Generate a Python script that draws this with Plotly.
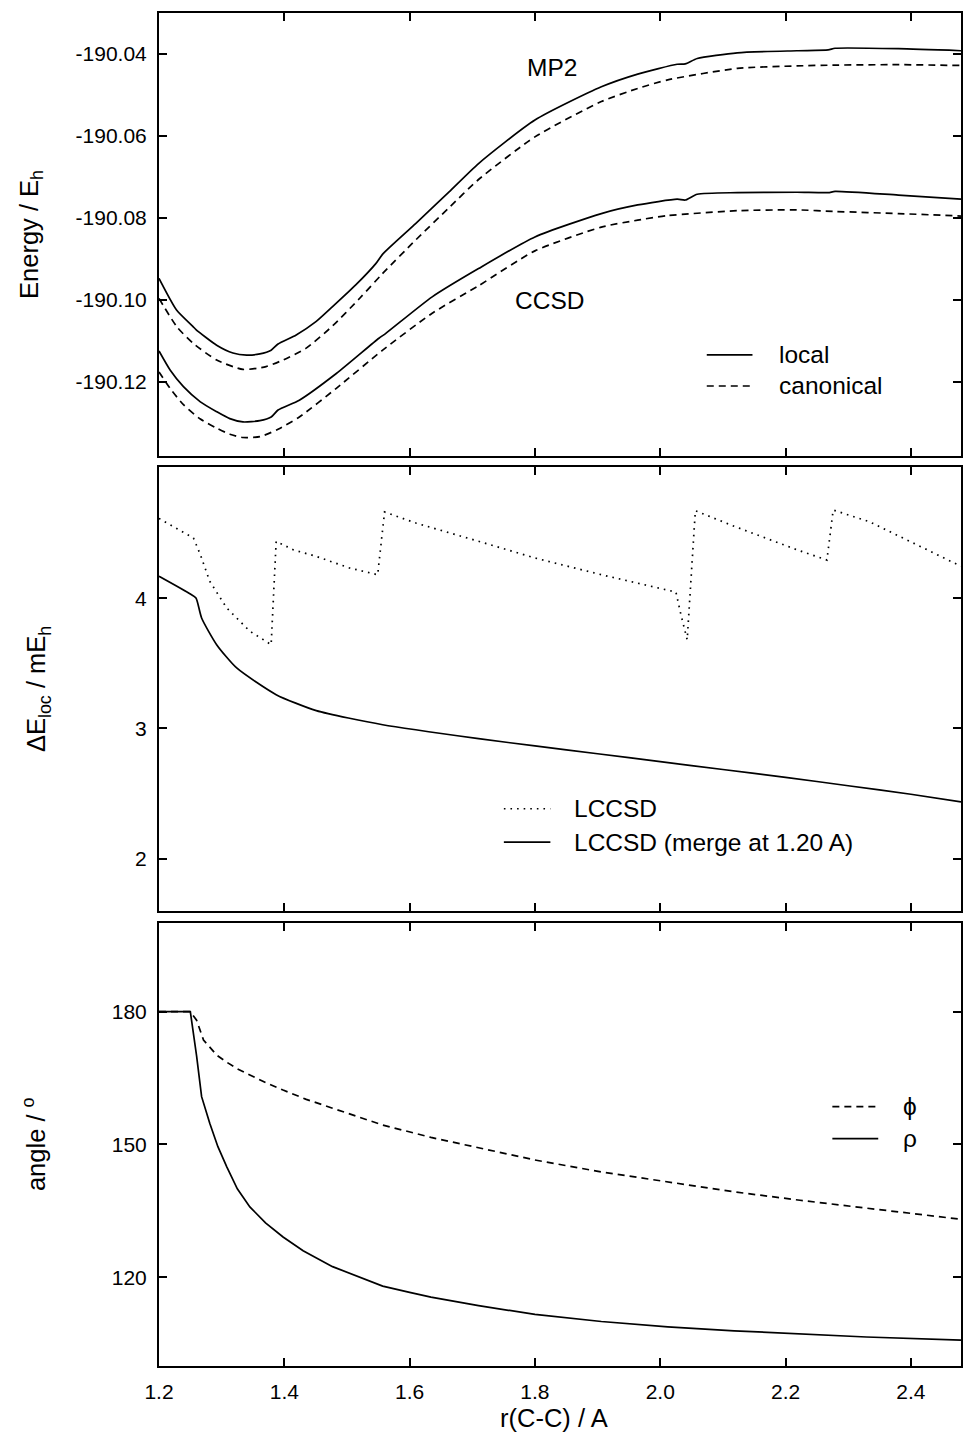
import plotly.graph_objects as go

# ---------------- data ----------------
# Energies (E_h) vs C-C distance (Angstrom)
r_mp2_local = [1.200, 1.228, 1.254, 1.259, 1.292, 1.318, 1.340, 1.361, 1.379, 1.390, 1.419, 1.451,
               1.477, 1.514, 1.546, 1.557, 1.610, 1.663, 1.710, 1.800, 1.906, 1.964, 2.027, 2.040,
               2.059, 2.123, 2.218, 2.268, 2.279, 2.380, 2.480]
e_mp2_local = [-190.0947, -190.1024, -190.1064, -190.1072, -190.1110, -190.1129, -190.1134, -190.1131,
               -190.1122, -190.1107, -190.1085, -190.1052, -190.1016, -190.0963, -190.0911, -190.0888,
               -190.0813, -190.0736, -190.0667, -190.0561, -190.0480, -190.0449, -190.0425, -190.0424,
               -190.0411, -190.0397, -190.0392, -190.0390, -190.0386, -190.0387, -190.0392]

r_mp2_can = [1.200, 1.229, 1.255, 1.292, 1.334, 1.371, 1.398, 1.435, 1.477, 1.520, 1.557, 1.610,
             1.662, 1.710, 1.800, 1.906, 1.964, 2.012, 2.123, 2.218, 2.281, 2.380, 2.480]
e_mp2_can = [-190.0996, -190.1066, -190.1106, -190.1146, -190.1169, -190.1162, -190.1146, -190.1117,
             -190.1063, -190.0996, -190.0935, -190.0853, -190.0776, -190.0706, -190.0602, -190.0516,
             -190.0484, -190.0463, -190.0435, -190.0429, -190.0427, -190.0426, -190.0428]

r_ccsd_local = [1.200, 1.218, 1.239, 1.266, 1.292, 1.313, 1.334, 1.361, 1.379, 1.390, 1.424, 1.483,
                1.551, 1.562, 1.636, 1.710, 1.800, 1.906, 1.964, 2.027, 2.040, 2.059, 2.123, 2.218,
                2.268, 2.279, 2.380, 2.480]
e_ccsd_local = [-190.1124, -190.1171, -190.1211, -190.1248, -190.1272, -190.1289, -190.1297, -190.1294,
                -190.1285, -190.1268, -190.1244, -190.1179, -190.1093, -190.1081, -190.0992, -190.0923,
                -190.0846, -190.0789, -190.0768, -190.0754, -190.0756, -190.0742, -190.0738, -190.0737,
                -190.0738, -190.0735, -190.0744, -190.0754]

r_ccsd_can = [1.200, 1.218, 1.239, 1.266, 1.292, 1.313, 1.334, 1.361, 1.390, 1.424, 1.483, 1.557,
              1.636, 1.710, 1.800, 1.906, 1.964, 2.012, 2.123, 2.218, 2.281, 2.380, 2.480]
e_ccsd_can = [-190.1175, -190.1216, -190.1255, -190.1290, -190.1312, -190.1327, -190.1335, -190.1333,
              -190.1315, -190.1285, -190.1215, -190.1122, -190.1032, -190.0965, -190.0880, -190.0822,
              -190.0805, -190.0794, -190.0782, -190.0780, -190.0784, -190.0789, -190.0795]

# Local correlation error (mE_h)
r_lccsd = [1.200, 1.255, 1.266, 1.281, 1.308, 1.345, 1.379, 1.387, 1.414, 1.451, 1.504, 1.549,
           1.560, 1.610, 1.710, 1.800, 1.906, 1.980, 2.025, 2.033, 2.043, 2.056, 2.118, 2.218,
           2.266, 2.276, 2.334, 2.480]
de_lccsd = [4.614, 4.463, 4.335, 4.131, 3.926, 3.747, 3.644, 4.438, 4.373, 4.322, 4.233, 4.181,
            4.663, 4.578, 4.438, 4.310, 4.181, 4.100, 4.048, 3.874, 3.682, 4.673, 4.553, 4.373,
            4.294, 4.678, 4.588, 4.246]

r_merge = [1.200, 1.250, 1.259, 1.268, 1.292, 1.324, 1.387, 1.451, 1.557, 1.710, 1.800, 1.900,
           2.000, 2.100, 2.200, 2.300, 2.400, 2.480]
de_merge = [4.169, 4.033, 4.002, 3.849, 3.644, 3.465, 3.260, 3.137, 3.029, 2.922, 2.866, 2.806,
            2.745, 2.685, 2.625, 2.560, 2.495, 2.436]

# Angles (degrees)
r_phi = [1.200, 1.250, 1.260, 1.271, 1.281, 1.292, 1.308, 1.325, 1.345, 1.370, 1.398, 1.435,
         1.477, 1.520, 1.557, 1.634, 1.710, 1.800, 1.906, 2.012, 2.118, 2.223, 2.329, 2.480]
phi = [180.0, 180.0, 178.1, 173.6, 172.0, 170.2, 168.6, 167.1, 165.7, 164.0, 162.3, 160.2,
       158.2, 156.2, 154.4, 151.6, 149.2, 146.5, 143.8, 141.6, 139.3, 137.4, 135.6, 133.1]

r_rho = [1.200, 1.250, 1.260, 1.268, 1.281, 1.294, 1.308, 1.325, 1.345, 1.370, 1.398, 1.430,
         1.477, 1.520, 1.557, 1.600, 1.634, 1.710, 1.800, 1.906, 2.012, 2.118, 2.223, 2.329, 2.480]
rho = [180.0, 180.0, 170.0, 160.8, 154.8, 149.5, 145.0, 140.0, 135.9, 132.3, 129.1, 126.0,
       122.4, 120.0, 118.0, 116.6, 115.5, 113.6, 111.6, 110.0, 108.8, 107.9, 107.2, 106.5, 105.8]

# Tick values and labels
x_ticks = [1.2, 1.4, 1.6, 1.8, 2.0, 2.2, 2.4]
x_ticktext = ["1.2", "1.4", "1.6", "1.8", "2.0", "2.2", "2.4"]
e_ticks = [-190.12, -190.10, -190.08, -190.06, -190.04]
e_ticktext = ["-190.12", "-190.10", "-190.08", "-190.06", "-190.04"]
de_ticks = [2, 3, 4]
de_ticktext = ["2", "3", "4"]
ang_ticks = [120, 150, 180]
ang_ticktext = ["120", "150", "180"]

# ---------------- styling ----------------
FONT = "Liberation Sans, Arial, Helvetica, sans-serif"
BLACK = "#000000"
LW = 1.7
DASH = "7px,5px"
DOT = "1.6px,5px"
TICK_SIZE = 21
TEXT_SIZE = 24.5
TITLE_SIZE = 25.5

fig = go.Figure()


def line(x, y, axes, dash="solid", smooth=True):
    shape = dict(shape="spline", smoothing=0.6) if smooth else dict(shape="linear")
    fig.add_trace(go.Scatter(
        x=x, y=y, mode="lines", xaxis=axes[0], yaxis=axes[1],
        line=dict(color=BLACK, width=LW, dash=dash, **shape), showlegend=False,
        hoverinfo="skip"))


line(r_mp2_local, e_mp2_local, ("x", "y"))
line(r_mp2_can, e_mp2_can, ("x", "y"), DASH)
line(r_ccsd_local, e_ccsd_local, ("x", "y"))
line(r_ccsd_can, e_ccsd_can, ("x", "y"), DASH)

line(r_lccsd, de_lccsd, ("x2", "y2"), DOT, smooth=False)
line(r_merge, de_merge, ("x2", "y2"))

line(r_phi, phi, ("x3", "y3"), DASH, smooth=False)
line(r_rho, rho, ("x3", "y3"), smooth=False)

axis_common = dict(
    showline=True, linewidth=2, linecolor=BLACK, mirror="ticks",
    ticks="inside", ticklen=8, tickwidth=1.5, tickcolor=BLACK,
    showgrid=False, zeroline=False,
    tickfont=dict(family=FONT, size=TICK_SIZE, color=BLACK),
)

x_common = dict(axis_common, range=[1.2, 2.48], tickvals=x_ticks, ticktext=x_ticktext)

dom_top = [0.6726, 1.0]
dom_mid = [0.3361, 0.6641]
dom_bot = [0.0, 0.3276]

fig.update_layout(
    width=964, height=1432,
    margin=dict(l=159, r=1, t=13, b=66),
    paper_bgcolor="white", plot_bgcolor="white",
    font=dict(family=FONT, size=TEXT_SIZE, color=BLACK),
    xaxis=dict(x_common, anchor="y", showticklabels=False),
    xaxis2=dict(x_common, anchor="y2", matches="x", showticklabels=False),
    xaxis3=dict(x_common, anchor="y3", matches="x", showticklabels=True, ticklabelstandoff=6),
    yaxis=dict(axis_common, domain=dom_top, anchor="x", range=[-190.138, -190.030],
               tickvals=e_ticks, ticktext=e_ticktext, ticklabelstandoff=6),
    yaxis2=dict(axis_common, domain=dom_mid, anchor="x2", range=[1.596, 5.005],
                tickvals=de_ticks, ticktext=de_ticktext, ticklabelstandoff=6),
    yaxis3=dict(axis_common, domain=dom_bot, anchor="x3", range=[99.95, 200.1],
                tickvals=ang_ticks, ticktext=ang_ticktext, ticklabelstandoff=6),
)

annotations = []


def text(s, x, y, xref, yref, xanchor="center", yanchor="middle", angle=0, size=TEXT_SIZE):
    annotations.append(dict(text=s, x=x, y=y, xref=xref, yref=yref, showarrow=False,
                            xanchor=xanchor, yanchor=yanchor, textangle=angle,
                            font=dict(family=FONT, size=size, color=BLACK)))


# curve labels
text("MP2", 1.827, -190.0432, "x", "y")
text("CCSD", 1.824, -190.1000, "x", "y")

# axis titles
text("Energy / E<sub>h</sub>", -0.159, 0.5, "x domain", "y domain", angle=-90, size=TITLE_SIZE)
text("ΔE<sub>loc</sub> / mE<sub>h</sub>", -0.150, 0.5, "x2 domain", "y2 domain", angle=-90,
     size=TITLE_SIZE)
text("angle / <sup>o</sup>", -0.155, 0.5, "x3 domain", "y3 domain", angle=-90, size=TITLE_SIZE)
text("r(C-C) / A", 0.4925, -0.117, "x3 domain", "y3 domain", size=TITLE_SIZE)

# key entries: (axes, y position in domain, dash, label, x start, x end, text x)
keys = [
    ("x", "y", 0.228, "solid", "local", 0.683, 0.740, 0.770),
    ("x", "y", 0.158, DASH, "canonical", 0.683, 0.740, 0.770),
    ("x2", "y2", 0.231, DOT, "LCCSD", 0.430, 0.488, 0.515),
    ("x2", "y2", 0.156, "solid", "LCCSD (merge at 1.20 A)", 0.430, 0.488, 0.515),
    ("x3", "y3", 0.585, DASH, "ϕ", 0.8396, 0.8968, 0.925),
    ("x3", "y3", 0.513, "solid", "ρ", 0.8396, 0.8968, 0.925),
]
shapes = []
for xa, ya, yk, dash, label, x0, x1, xt in keys:
    shapes.append(dict(type="line", xref=xa + " domain", yref=ya + " domain",
                       x0=x0, x1=x1, y0=yk, y1=yk,
                       line=dict(color=BLACK, width=LW, dash=dash)))
    text(label, xt, yk, xa + " domain", ya + " domain", xanchor="left")

fig.update_layout(annotations=annotations, shapes=shapes)

fig.write_html("out.html")
